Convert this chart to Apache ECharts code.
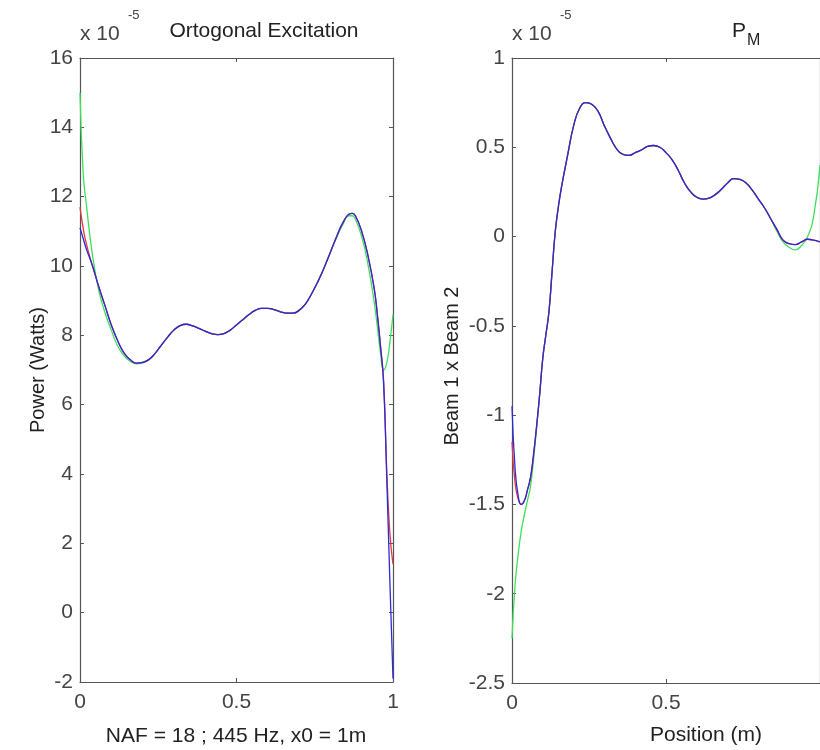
<!DOCTYPE html>
<html>
<head>
<meta charset="utf-8">
<script src="https://cdn.jsdelivr.net/npm/echarts@6/dist/echarts.min.js"></script>
<style>html,body{margin:0;padding:0;background:#fff}#c{width:820px;height:750px}</style>
</head>
<body>
<div id="c"></div>
<script>
// ---- Left panel: Ortogonal Excitation (x 1e-5 W) ----
const xLeft = [0, 0.01, 0.02, 0.04, 0.06, 0.08, 0.10, 0.12, 0.14, 0.16, 0.18, 0.20, 0.22, 0.24, 0.26, 0.28, 0.30, 0.32, 0.34, 0.36, 0.38, 0.40, 0.42, 0.44, 0.46, 0.48, 0.50, 0.52, 0.54, 0.56, 0.58, 0.60, 0.62, 0.64, 0.66, 0.68, 0.70, 0.72, 0.74, 0.76, 0.78, 0.80, 0.82, 0.84, 0.86, 0.87, 0.88, 0.90, 0.92, 0.94, 0.95, 0.96, 0.97, 0.98, 0.99, 1.00];
const leftGreen = [15.0, 12.7, 11.8, 10.3, 9.3, 8.65, 8.15, 7.7, 7.42, 7.25, 7.18, 7.2, 7.3, 7.48, 7.72, 7.95, 8.15, 8.28, 8.32, 8.27, 8.2, 8.12, 8.05, 8.02, 8.05, 8.15, 8.3, 8.45, 8.6, 8.72, 8.78, 8.78, 8.74, 8.68, 8.64, 8.64, 8.72, 8.9, 9.2, 9.55, 9.95, 10.4, 10.82, 11.2, 11.45, 11.45, 11.35, 10.85, 10.05, 8.95, 8.25, 7.5, 7.0, 7.2, 7.8, 8.6];
const leftRed = [11.7, 11.1, 10.65, 10.0, 9.4, 8.85, 8.3, 7.85, 7.5, 7.3, 7.2, 7.22, 7.3, 7.48, 7.72, 7.95, 8.15, 8.28, 8.32, 8.27, 8.2, 8.12, 8.05, 8.02, 8.05, 8.15, 8.3, 8.45, 8.6, 8.72, 8.78, 8.78, 8.74, 8.68, 8.64, 8.64, 8.72, 8.9, 9.2, 9.55, 9.95, 10.4, 10.85, 11.25, 11.5, 11.52, 11.45, 11.0, 10.3, 9.35, 8.6, 7.7, 6.7, 4.1, 2.3, 1.4];
const leftBlue = [11.1, 10.8, 10.5, 10.0, 9.4, 8.85, 8.3, 7.85, 7.5, 7.3, 7.2, 7.22, 7.3, 7.48, 7.72, 7.95, 8.15, 8.28, 8.32, 8.27, 8.2, 8.12, 8.05, 8.02, 8.05, 8.15, 8.3, 8.45, 8.6, 8.72, 8.78, 8.78, 8.74, 8.68, 8.64, 8.64, 8.72, 8.9, 9.2, 9.55, 9.95, 10.4, 10.85, 11.25, 11.5, 11.52, 11.45, 11.0, 10.3, 9.35, 8.6, 7.7, 6.6, 3.9, 0.9, -1.9];

// ---- Right panel: P_M (x 1e-5) ----
const xRight = [0, 0.01, 0.02, 0.03, 0.04, 0.05, 0.06, 0.07, 0.08, 0.09, 0.10, 0.11, 0.12, 0.13, 0.14, 0.15, 0.16, 0.18, 0.20, 0.22, 0.24, 0.26, 0.28, 0.30, 0.32, 0.34, 0.36, 0.38, 0.40, 0.42, 0.44, 0.46, 0.48, 0.50, 0.52, 0.54, 0.56, 0.58, 0.60, 0.62, 0.64, 0.66, 0.68, 0.70, 0.72, 0.74, 0.76, 0.78, 0.80, 0.82, 0.84, 0.86, 0.88, 0.90, 0.92, 0.94, 0.96, 0.98, 1.00];
const rightGreen = [-2.25, -1.95, -1.78, -1.65, -1.56, -1.48, -1.4, -1.25, -1.07, -0.88, -0.68, -0.55, -0.42, -0.2, 0.02, 0.16, 0.27, 0.45, 0.62, 0.72, 0.75, 0.74, 0.7, 0.62, 0.55, 0.49, 0.46, 0.455, 0.47, 0.485, 0.505, 0.51, 0.5, 0.47, 0.43, 0.37, 0.3, 0.25, 0.22, 0.21, 0.215, 0.235, 0.265, 0.3, 0.325, 0.32, 0.3, 0.26, 0.21, 0.16, 0.1, 0.03, -0.03, -0.06, -0.075, -0.05, 0.0, 0.12, 0.4];
const rightRed = [-1.15, -1.38, -1.47, -1.5, -1.48, -1.42, -1.35, -1.22, -1.06, -0.88, -0.68, -0.55, -0.42, -0.2, 0.02, 0.16, 0.27, 0.45, 0.62, 0.72, 0.75, 0.74, 0.7, 0.62, 0.55, 0.49, 0.46, 0.455, 0.47, 0.485, 0.505, 0.51, 0.5, 0.47, 0.43, 0.37, 0.3, 0.25, 0.22, 0.21, 0.215, 0.235, 0.265, 0.3, 0.325, 0.32, 0.3, 0.26, 0.21, 0.16, 0.1, 0.04, -0.02, -0.04, -0.045, -0.03, -0.015, -0.02, -0.03];
const rightBlue = [-0.95, -1.3, -1.45, -1.5, -1.48, -1.42, -1.35, -1.22, -1.06, -0.88, -0.68, -0.55, -0.42, -0.2, 0.02, 0.16, 0.27, 0.45, 0.62, 0.72, 0.75, 0.74, 0.7, 0.62, 0.55, 0.49, 0.46, 0.455, 0.47, 0.485, 0.505, 0.51, 0.5, 0.47, 0.43, 0.37, 0.3, 0.25, 0.22, 0.21, 0.215, 0.235, 0.265, 0.3, 0.325, 0.32, 0.3, 0.26, 0.21, 0.16, 0.1, 0.04, -0.02, -0.04, -0.045, -0.03, -0.015, -0.02, -0.03];

const pairs = (xs, ys) => xs.map((x, i) => [x, ys[i]]);

const FONT = 'Liberation Sans, Arial, sans-serif';
const AX = '#555';
const LBL = '#444';

function mainX(grid) {
  return {
    type: 'value', gridIndex: grid, min: 0, max: 1, interval: 0.5, position: 'bottom',
    axisLine: { show: true, onZero: false, lineStyle: { color: AX, width: 1.2 } },
    axisTick: { show: true, inside: true, length: 4, lineStyle: { color: AX } },
    axisLabel: { show: true, fontSize: 21, color: LBL, fontFamily: FONT, margin: 10,
      showMaxLabel: grid === 0 ? true : false,
      formatter: v => String(v) },
    splitLine: { show: false }
  };
}
function mirrorX(grid) {
  return {
    type: 'value', gridIndex: grid, min: 0, max: 1, interval: 0.5, position: 'top',
    axisLine: { show: true, onZero: false, lineStyle: { color: AX, width: 1.2 } },
    axisTick: { show: true, inside: true, length: 4, lineStyle: { color: AX } },
    axisLabel: { show: false }, splitLine: { show: false }
  };
}
function mainY(grid, mn, mx, step) {
  return {
    type: 'value', gridIndex: grid, min: mn, max: mx, interval: step, position: 'left',
    axisLine: { show: true, onZero: false, lineStyle: { color: AX, width: 1.2 } },
    axisTick: { show: true, inside: true, length: 4, lineStyle: { color: AX } },
    axisLabel: { show: true, fontSize: 21, color: LBL, fontFamily: FONT, margin: 7,
      formatter: v => String(v) },
    splitLine: { show: false }
  };
}
function mirrorY(grid, mn, mx, step, showTicks) {
  return {
    type: 'value', gridIndex: grid, min: mn, max: mx, interval: step, position: 'right',
    axisLine: { show: true, onZero: false, lineStyle: { color: AX, width: 1.2 } },
    axisTick: { show: showTicks, inside: true, length: 4, lineStyle: { color: AX } },
    axisLabel: { show: false }, splitLine: { show: false }
  };
}

function line(name, data, color, xi, yi) {
  return {
    name, type: 'line', data, xAxisIndex: xi, yAxisIndex: yi,
    showSymbol: false, smooth: true, animation: false,
    lineStyle: { color, width: 1.3 }
  };
}

const GREEN = '#3ee05a', RED = '#e8383a', BLUE = '#2a2ad8';

const option = {
  animation: false,
  backgroundColor: '#fff',
  grid: [
    { left: 80, top: 58, width: 313, height: 624 },
    { left: 512, top: 58, width: 312, height: 625 }
  ],
  xAxis: [mainX(0), mirrorX(0), mainX(1), mirrorX(1)],
  yAxis: [mainY(0, -2, 16, 2), mirrorY(0, -2, 16, 2, true), mainY(1, -2.5, 1, 0.5), mirrorY(1, -2.5, 1, 0.5, false)],
  series: [
    line('Green L', pairs(xLeft, leftGreen), GREEN, 0, 0),
    line('Red L', pairs(xLeft, leftRed), RED, 0, 0),
    line('Blue L', pairs(xLeft, leftBlue), BLUE, 0, 0),
    line('Green R', pairs(xRight, rightGreen), GREEN, 2, 2),
    line('Red R', pairs(xRight, rightRed), RED, 2, 2),
    line('Blue R', pairs(xRight, rightBlue), BLUE, 2, 2)
  ],
  graphic: [
    { type: 'text', left: 80, top: 24, style: { text: 'x 10', fontSize: 21, fill: LBL, fontFamily: FONT } },
    { type: 'text', left: 128, top: 9, style: { text: '-5', fontSize: 13, fill: LBL, fontFamily: FONT } },
    { type: 'text', x: 264, y: 31, style: { text: 'Ortogonal Excitation', fontSize: 21, fill: '#222', fontFamily: FONT, align: 'center', verticalAlign: 'middle' } },
    { type: 'text', left: 512, top: 24, style: { text: 'x 10', fontSize: 21, fill: LBL, fontFamily: FONT } },
    { type: 'text', left: 560, top: 9, style: { text: '-5', fontSize: 13, fill: LBL, fontFamily: FONT } },
    { type: 'text', left: 732, top: 21, style: { text: 'P', fontSize: 21, fill: '#222', fontFamily: FONT } },
    { type: 'text', left: 747, top: 33, style: { text: 'M', fontSize: 16, fill: '#222', fontFamily: FONT } },
    { type: 'text', x: 38, y: 370, rotation: Math.PI / 2, style: { text: 'Power (Watts)', fontSize: 20, fill: '#222', fontFamily: FONT, align: 'center', verticalAlign: 'middle' } },
    { type: 'text', x: 452, y: 366, rotation: Math.PI / 2, style: { text: 'Beam 1 x Beam 2', fontSize: 20, fill: '#222', fontFamily: FONT, align: 'center', verticalAlign: 'middle' } },
    { type: 'text', x: 236, y: 736, style: { text: 'NAF = 18 ; 445 Hz, x0 = 1m', fontSize: 21, fill: '#222', fontFamily: FONT, align: 'center', verticalAlign: 'middle' } },
    { type: 'text', x: 706, y: 735, style: { text: 'Position (m)', fontSize: 21, fill: '#222', fontFamily: FONT, align: 'center', verticalAlign: 'middle' } }
  ]
};

const chart = echarts.init(document.getElementById('c'), null, { renderer: 'canvas' });
chart.setOption(option);
</script>
</body>
</html>
